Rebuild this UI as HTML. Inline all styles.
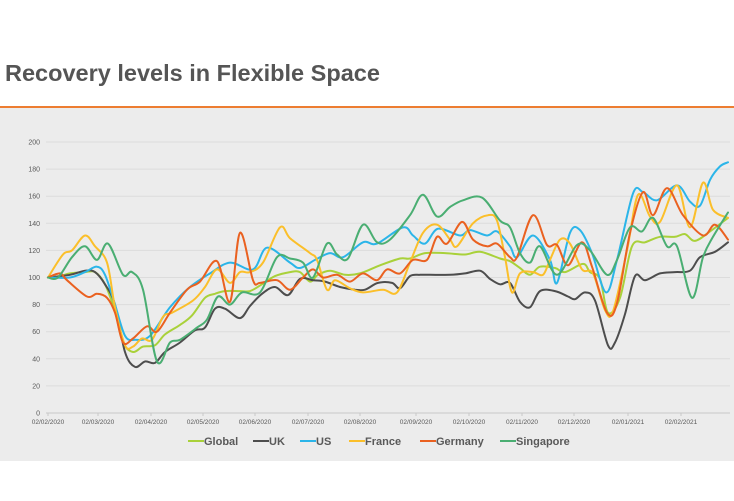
<!DOCTYPE html>
<html><head><meta charset="utf-8">
<style>
body{margin:0;width:734px;height:501px;background:#fff;overflow:hidden;font-family:"Liberation Sans",Arial,sans-serif;}
#t{position:absolute;left:5px;top:60px;font-size:23.5px;font-weight:bold;color:#555;}
#ln{position:absolute;left:0;top:106px;width:734px;height:2px;background:#ed7d31;}
#bg{position:absolute;left:0;top:108px;width:734px;height:353px;background:#ececec;}
svg{position:absolute;left:0;top:0;}
</style></head><body>
<div id="bg"></div><div id="ln"></div>
<div id="t">Recovery levels in Flexible Space</div>
<svg id="s" width="734" height="501" xmlns="http://www.w3.org/2000/svg" font-family="Liberation Sans, Arial, sans-serif">
<g id="grid"></g><g id="series" fill="none" stroke-width="2" stroke-linejoin="round" stroke-linecap="round"></g>
<g font-size="11" font-weight="bold" fill="#595959">
<line x1="188" y1="441" x2="204" y2="441" stroke="#a9d13a" stroke-width="2"/><text x="204" y="445">Global</text>
<line x1="253" y1="441" x2="269" y2="441" stroke="#4d4d4d" stroke-width="2"/><text x="269" y="445">UK</text>
<line x1="300" y1="441" x2="316" y2="441" stroke="#2bb5e9" stroke-width="2"/><text x="316" y="445">US</text>
<line x1="349" y1="441" x2="365" y2="441" stroke="#fbbf2a" stroke-width="2"/><text x="365" y="445">France</text>
<line x1="420" y1="441" x2="436" y2="441" stroke="#ea6120" stroke-width="2"/><text x="436" y="445">Germany</text>
<line x1="500" y1="441" x2="516" y2="441" stroke="#4aae72" stroke-width="2"/><text x="516" y="445">Singapore</text>
</g>
</svg>
<script>
var NS="http://www.w3.org/2000/svg";
function Y(v){return 413-1.355*v;}
var g=document.getElementById("grid"),h="";
for(var v=0;v<=200;v+=20){var y=Y(v);h+='<line x1="46" x2="730" y1="'+y+'" y2="'+y+'" stroke="'+(v==0?'#c8c8c8':'#dcdcdc')+'" stroke-width="1"/>';
h+='<text x="40" y="'+(y+2.5)+'" font-size="7" fill="#595959" text-anchor="end">'+v+'</text>';}
var xl=[[48,"02/02/2020"],[98,"02/03/2020"],[151,"02/04/2020"],[203,"02/05/2020"],[255,"02/06/2020"],[308,"02/07/2020"],[360,"02/08/2020"],[416,"02/09/2020"],[469,"02/10/2020"],[522,"02/11/2020"],[574,"02/12/2020"],[628,"02/01/2021"],[681,"02/02/2021"]];
xl.forEach(function(a){h+='<line x1="'+a[0]+'" x2="'+a[0]+'" y1="413" y2="416" stroke="#c8c8c8"/><text x="'+a[0]+'" y="424" font-size="6.5" fill="#595959" text-anchor="middle">'+a[1]+'</text>';});
g.innerHTML=h;
var D={
"#a9d13a":[48,100,60,101,70,103,85,104,95,104,105,95,115,75,123,52,133,45,143,49,155,50,165,58,180,65,192,72,205,85,215,88,225,90,240,90,250,90,262,95,275,101,290,104,300,104,310,97,318,102,330,105,345,102,360,103,380,109,400,114,410,114,425,118,445,118,465,117,480,119,500,114,510,112,520,107,530,102,540,108,555,107,565,104,583,110,590,104,600,99,608,74,620,85,632,123,645,126,660,130,675,130,685,132,695,127,710,134,728,144],
"#4d4d4d":[48,100,70,102,85,105,95,104,105,95,115,80,125,45,135,34,145,38,155,37,165,45,180,52,195,61,205,63,215,77,225,77,240,70,250,79,262,88,275,93,288,87,300,99,313,98,325,97,340,93,355,91,365,91,378,96,392,96,400,92,410,101,420,102,430,102,450,102,465,103,480,105,490,99,500,95,510,96,520,82,530,78,540,90,555,90,568,86,575,84,585,89,595,83,608,50,615,52,625,73,635,101,645,98,660,103,675,104,690,105,700,115,715,119,728,126],
"#2bb5e9":[48,100,70,100,85,104,97,108,105,102,115,80,125,57,135,54,150,57,170,78,190,93,210,103,230,111,253,106,267,122,290,111,300,107,315,113,330,118,343,115,363,126,377,125,403,137,413,131,425,125,438,136,460,131,470,135,487,131,497,134,510,123,517,115,533,131,550,113,557,96,570,133,580,135,592,118,606,89,617,113,633,162,643,163,657,157,677,168,690,156,700,153,710,172,720,182,728,185],
"#fbbf2a":[48,100,63,117,72,120,85,131,95,123,107,111,115,78,125,50,133,49,142,55,152,54,163,71,172,74,193,83,205,93,217,106,230,96,240,104,250,104,263,111,280,137,290,129,310,118,317,113,327,91,335,98,350,92,363,89,383,91,397,89,410,111,423,133,437,139,450,128,457,123,473,140,488,146,497,142,505,115,512,89,520,103,533,104,543,102,550,113,560,128,570,125,582,106,593,103,605,76,613,75,627,120,638,161,650,145,660,141,677,168,690,137,703,170,713,150,728,144],
"#ea6120":[48,100,60,103,67,98,87,86,97,88,107,85,115,74,123,52,133,55,147,64,157,60,170,74,187,91,200,97,217,112,230,82,240,133,253,98,260,96,277,98,290,91,303,100,313,106,323,100,337,102,350,97,363,103,377,98,387,106,400,103,413,113,427,113,437,130,447,125,462,141,473,128,487,123,497,125,510,115,517,115,533,146,547,124,557,124,568,109,582,126,592,108,607,74,617,81,630,133,643,163,653,146,667,166,683,146,703,131,715,139,728,128],
"#4aae72":[48,100,58,100,72,115,85,123,97,113,108,125,123,102,132,104,143,91,157,38,170,52,180,54,197,63,207,69,218,86,230,80,242,89,260,89,277,115,290,114,303,111,313,100,327,125,337,117,348,114,363,139,377,126,390,128,410,146,423,161,437,145,450,152,463,157,482,159,500,142,510,137,520,118,530,111,540,123,557,102,577,124,590,120,607,102,617,113,630,137,642,134,653,144,667,123,677,123,692,85,703,115,713,130,728,148]
};
function path(a){var p=[];for(var i=0;i<a.length;i+=2)p.push([a[i],Y(a[i+1])]);
var d="M"+p[0][0]+","+p[0][1];
for(var i=0;i<p.length-1;i++){var p0=p[i-1]||p[i],p1=p[i],p2=p[i+1],p3=p[i+2]||p2;
var c1x=p1[0]+(p2[0]-p0[0])/6,c1y=p1[1]+(p2[1]-p0[1])/6,c2x=p2[0]-(p3[0]-p1[0])/6,c2y=p2[1]-(p3[1]-p1[1])/6;
d+=" C"+c1x.toFixed(1)+","+c1y.toFixed(1)+" "+c2x.toFixed(1)+","+c2y.toFixed(1)+" "+p2[0]+","+p2[1].toFixed(1);}
return d;}
var s="";for(var c in D)s+='<path d="'+path(D[c])+'" stroke="'+c+'"/>';
document.getElementById("series").innerHTML=s;
</script>
</body></html>
